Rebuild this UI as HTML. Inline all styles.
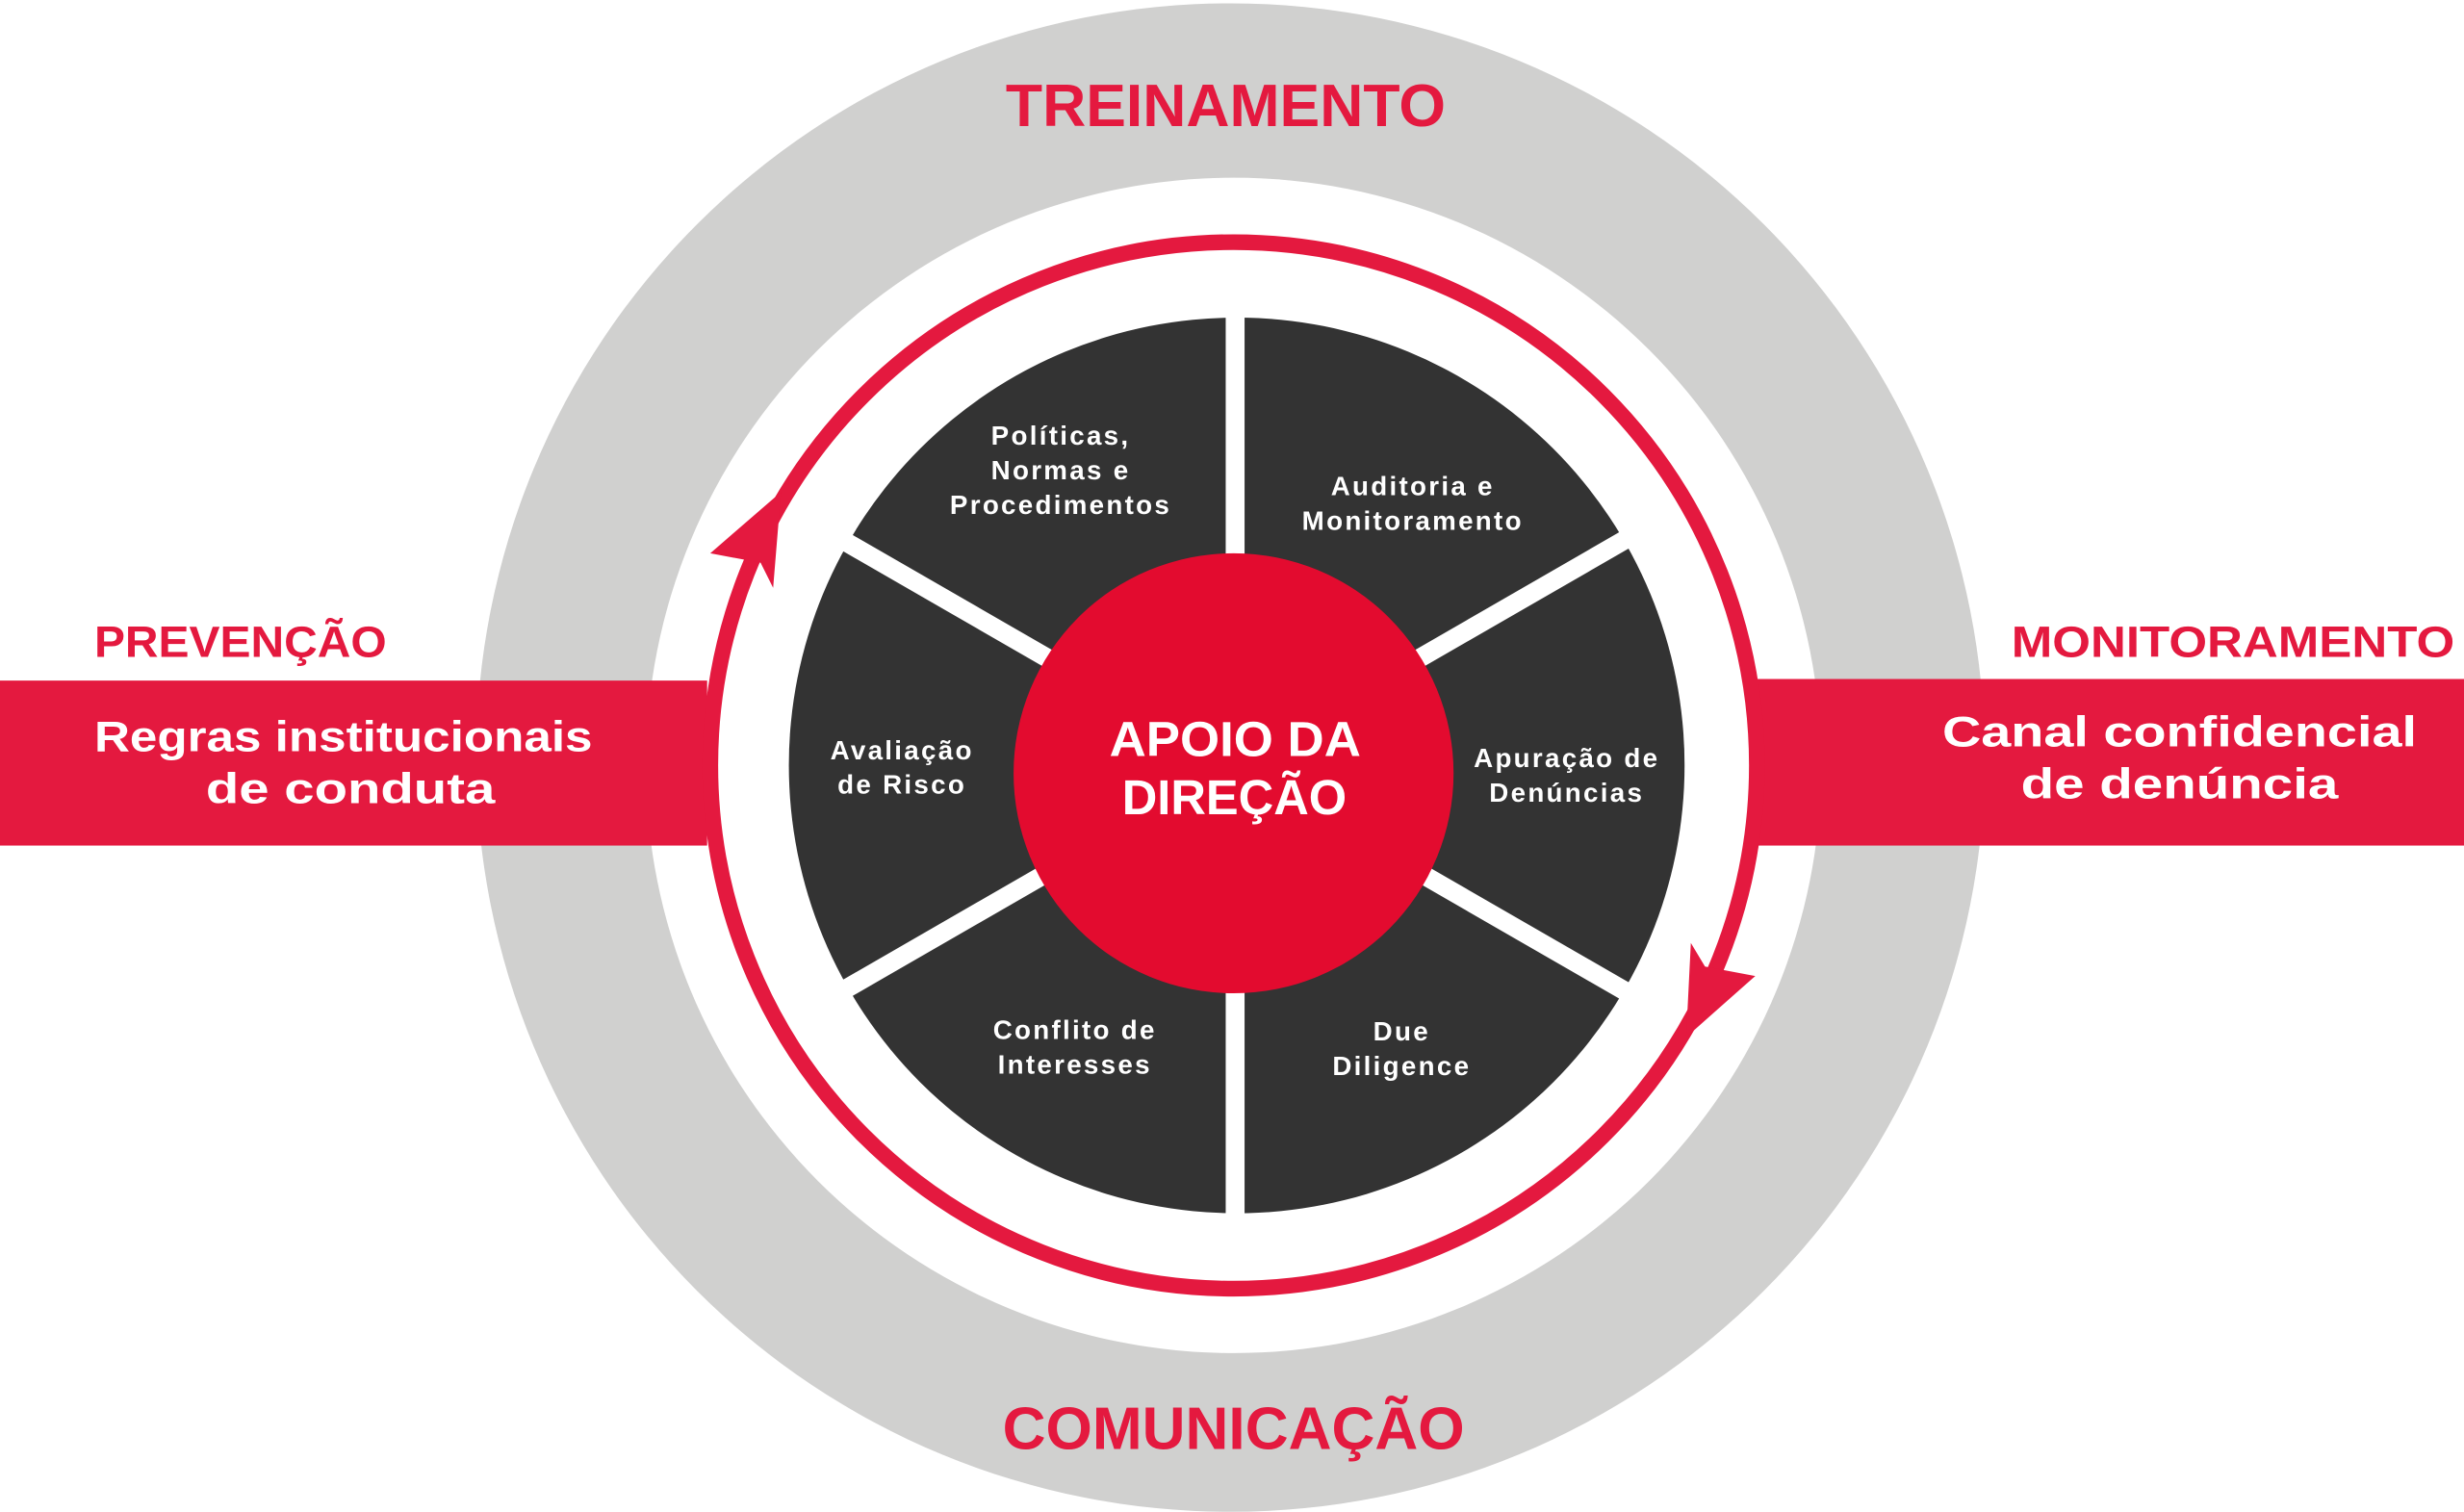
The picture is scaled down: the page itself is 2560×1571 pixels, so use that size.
<!DOCTYPE html>
<html><head><meta charset="utf-8"><style>
html,body{margin:0;padding:0;background:#fff;width:2560px;height:1571px;overflow:hidden}
svg{display:block}
text{font-family:"Liberation Sans",sans-serif;font-weight:bold}
</style></head><body>
<svg width="2560" height="1571" viewBox="0 0 1568 962" xmlns="http://www.w3.org/2000/svg">
<circle cx="783" cy="482" r="480" fill="#d0d0cf"/>
<circle cx="785" cy="487" r="374" fill="#fff"/>
<rect x="0" y="433" width="450" height="105" fill="#e4193f"/>
<rect x="1118" y="432" width="450" height="106" fill="#e4193f"/>
<circle cx="785" cy="487" r="333" fill="#fff" stroke="#e4193f" stroke-width="10"/>
<circle cx="787" cy="487" r="285" fill="#333333"/>
<g stroke="#fff" stroke-width="12">
<line x1="786" y1="487" x2="786" y2="195"/>
<line x1="786" y1="487" x2="786" y2="780"/>
<line x1="785" y1="487" x2="530" y2="340"/>
<line x1="785" y1="487" x2="1040" y2="340"/>
<line x1="785" y1="487" x2="530" y2="634"/>
<line x1="785" y1="487" x2="1040" y2="634"/>
</g>
<circle cx="785" cy="492" r="140" fill="#e30b2f"/>
<polygon points="452,352 497,313 492,374 484,358" fill="#e4193f"/>
<polygon points="1117,621 1073,660 1076,600 1085,615" fill="#e4193f"/>
<g fill="#e4193f">
<text x="640" y="80" font-size="38" textLength="280" lengthAdjust="spacingAndGlyphs">TREINAMENTO</text>
<text x="638" y="922" font-size="38" textLength="294" lengthAdjust="spacingAndGlyphs">COMUNICAÇÃO</text>
<text x="60" y="418" font-size="28" textLength="186" lengthAdjust="spacingAndGlyphs">PREVENÇÃO</text>
<text x="1280" y="418" font-size="28" textLength="282" lengthAdjust="spacingAndGlyphs">MONITORAMENTO</text>
</g>
<g fill="#fff">
<text x="60" y="478" font-size="27" textLength="317" lengthAdjust="spacingAndGlyphs">Regras institucionais</text>
<text x="131" y="511" font-size="27" textLength="184" lengthAdjust="spacingAndGlyphs">de conduta</text>
<text x="1236" y="475" font-size="27" textLength="302" lengthAdjust="spacingAndGlyphs">Canal confidencial</text>
<text x="1286" y="508" font-size="27" textLength="202" lengthAdjust="spacingAndGlyphs">de denúncia</text>
<text x="706" y="481" font-size="31" textLength="160" lengthAdjust="spacingAndGlyphs">APOIO DA</text>
<text x="714" y="518" font-size="31" textLength="143" lengthAdjust="spacingAndGlyphs">DIREÇÃO</text>
<g font-size="17" text-anchor="middle" letter-spacing="1.4">
<text x="675" y="283">Políticas,</text>
<text x="675" y="305">Normas e</text>
<text x="675" y="327">Procedimentos</text>
<text x="899" y="315">Auditoria e</text>
<text x="899" y="337">Monitoramento</text>
<text x="574" y="483">Avaliação</text>
<text x="574" y="505">de Risco</text>
<text x="997" y="488">Apuração de</text>
<text x="997" y="510">Denúncias</text>
<text x="684" y="661">Conflito de</text>
<text x="684" y="683">Interesses</text>
<text x="892" y="662">Due</text>
<text x="892" y="684">Diligence</text>
</g>
</g>
</svg>
</body></html>
